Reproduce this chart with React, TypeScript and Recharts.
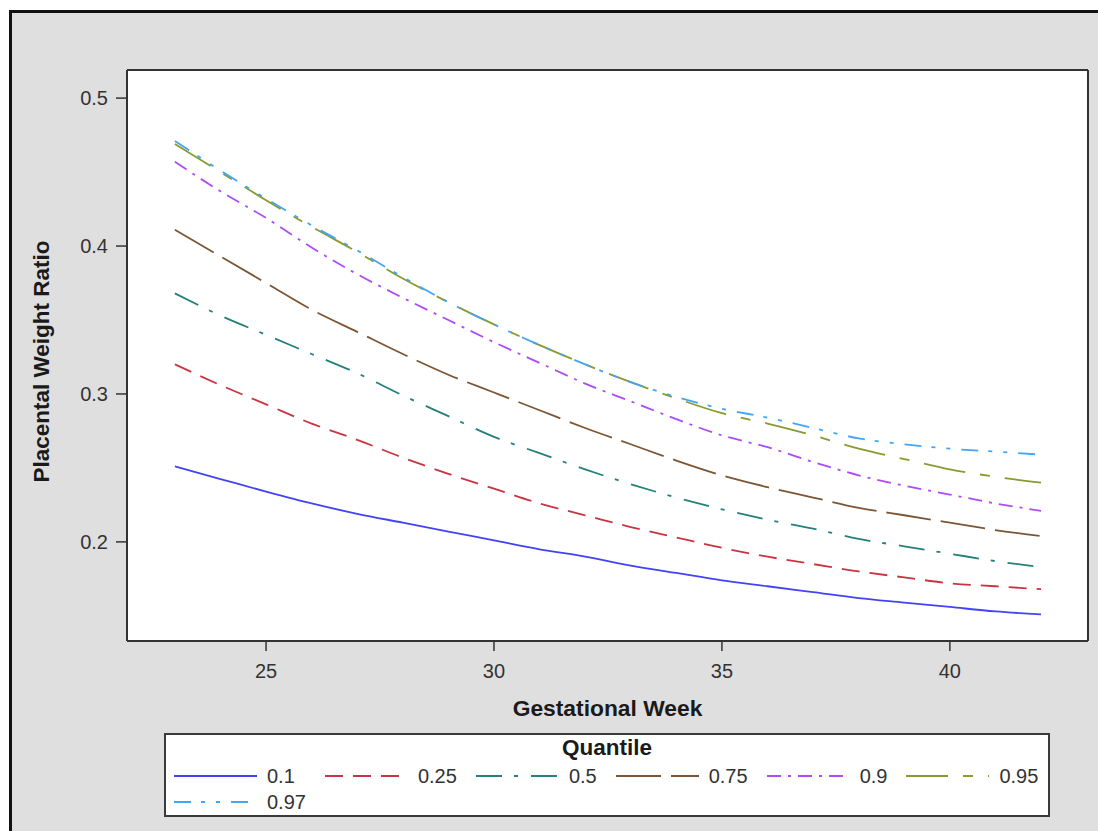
import React from 'react';
import { LineChart, Line, XAxis, YAxis, CartesianGrid, Legend } from 'recharts';

const weeks = [23, 24, 25, 26, 27, 28, 29, 30, 31, 32, 33, 34, 35, 36, 37, 38, 39, 40, 41, 42];
const q010 = [0.251, 0.2425, 0.234, 0.226, 0.219, 0.213, 0.207, 0.201, 0.195, 0.19, 0.184, 0.179, 0.174, 0.17, 0.166, 0.162, 0.159, 0.156, 0.153, 0.151];
const q025 = [0.32, 0.306, 0.293, 0.28, 0.269, 0.257, 0.246, 0.236, 0.226, 0.218, 0.21, 0.203, 0.196, 0.19, 0.185, 0.18, 0.176, 0.172, 0.17, 0.168];
const q050 = [0.368, 0.353, 0.34, 0.327, 0.314, 0.299, 0.285, 0.271, 0.26, 0.249, 0.239, 0.23, 0.222, 0.215, 0.209, 0.202, 0.197, 0.192, 0.187, 0.183];
const q075 = [0.411, 0.393, 0.375, 0.357, 0.342, 0.327, 0.313, 0.301, 0.289, 0.277, 0.266, 0.255, 0.245, 0.237, 0.23, 0.223, 0.218, 0.213, 0.208, 0.204];
const q090 = [0.457, 0.437, 0.419, 0.399, 0.381, 0.365, 0.35, 0.335, 0.321, 0.307, 0.295, 0.283, 0.272, 0.264, 0.254, 0.245, 0.238, 0.232, 0.226, 0.221];
const q095 = [0.469, 0.45, 0.431, 0.413, 0.396, 0.378, 0.362, 0.347, 0.333, 0.32, 0.308, 0.297, 0.287, 0.28, 0.272, 0.263, 0.256, 0.249, 0.244, 0.24];
const q097 = [0.471, 0.451, 0.432, 0.414, 0.397, 0.379, 0.362, 0.347, 0.333, 0.32, 0.308, 0.298, 0.29, 0.284, 0.277, 0.27, 0.266, 0.263, 0.261, 0.259];

const xTicks = [25, 30, 35, 40];
const yTicks = [0.2, 0.3, 0.4, 0.5];

const seriesDefs = [
  { key: 'q010', label: '0.1', values: q010, color: '#4343f5', dash: undefined as string | undefined },
  { key: 'q025', label: '0.25', values: q025, color: '#c93443', dash: '18 10' },
  { key: 'q050', label: '0.5', values: q050, color: '#23807a', dash: '26 12 4 13' },
  { key: 'q075', label: '0.75', values: q075, color: '#7c5634', dash: '45 10' },
  { key: 'q090', label: '0.9', values: q090, color: '#ad4cf5', dash: '14 7 3 7' },
  { key: 'q095', label: '0.95', values: q095, color: '#8a9a2c', dash: '42 15 10 15' },
  { key: 'q097', label: '0.97', values: q097, color: '#42a5f5', dash: '17 10 4 11 4 11' },
];

const data = weeks.map((w, i) => {
  const row: Record<string, number> = { week: w };
  seriesDefs.forEach((s) => {
    row[s.key] = s.values[i];
  });
  return row;
});

const FONT = '"Liberation Sans", Arial, sans-serif';

const LegendContent = () => (
  <div
    style={{
      position: 'relative',
      width: 886,
      height: 84,
      boxSizing: 'border-box',
      border: '2px solid #3a3a3a',
      background: '#ffffff',
      fontFamily: FONT,
    }}
  >
    <div
      style={{
        position: 'absolute',
        left: 0,
        right: 0,
        top: 13,
        transform: 'translateY(-50%)',
        textAlign: 'center',
        fontWeight: 'bold',
        fontSize: 22.5,
        color: '#1a1a1a',
        lineHeight: '24px',
      }}
    >
      Quantile
    </div>
    <div
      style={{
        position: 'absolute',
        left: 8,
        top: 28,
        display: 'grid',
        gridTemplateColumns: 'repeat(6, auto)',
        columnGap: 19,
        gridAutoRows: '26px',
        alignItems: 'center',
      }}
    >
      {seriesDefs.map((s) => (
        <div key={s.key} style={{ display: 'flex', alignItems: 'center', height: 26 }}>
          <svg width={83} height={6} style={{ display: 'block' }}>
            <line x1={0} y1={3} x2={83} y2={3} stroke={s.color} strokeWidth={2} strokeDasharray={s.dash} />
          </svg>
          <span style={{ marginLeft: 10, fontSize: 20, color: '#333', whiteSpace: 'nowrap' }}>{s.label}</span>
        </div>
      ))}
    </div>
  </div>
);

const XLabel = (props: any) => {
  const vb = props.viewBox || { x: 0, y: 0, width: 0, height: 0 };
  return (
    <text
      x={vb.x + vb.width / 2}
      y={708}
      textAnchor="middle"
      dominantBaseline="central"
      fontFamily={FONT}
      fontWeight="bold"
      fontSize={22.8}
      fill="#1a1a1a"
    >
      Gestational Week
    </text>
  );
};

const YLabel = (props: any) => {
  const vb = props.viewBox || { x: 0, y: 0, width: 0, height: 0 };
  const cx = vb.x + 41;
  const cy = vb.y + vb.height / 2 + 6;
  return (
    <text
      x={cx}
      y={cy}
      transform={`rotate(-90 ${cx} ${cy})`}
      textAnchor="middle"
      dominantBaseline="central"
      fontFamily={FONT}
      fontWeight="bold"
      fontSize={22.5}
      fill="#1a1a1a"
    >
      Placental Weight Ratio
    </text>
  );
};

const frameH = (p: any) => [p.offset.top, p.offset.top + p.offset.height];
const frameV = (p: any) => [p.offset.left, p.offset.left + p.offset.width];

export default function App() {
  const tickStyle = { fontFamily: FONT, fontSize: 20, fill: '#333' };
  return (
    <div style={{ position: 'fixed', left: 0, top: 0, width: 1098, height: 831, overflow: 'hidden', background: '#ffffff' }}>
      <div
        style={{
          position: 'absolute',
          left: 9,
          top: 10,
          width: 1089,
          height: 821,
          boxSizing: 'border-box',
          borderLeft: '3px solid #111',
          borderTop: '3px solid #111',
          background: '#dfdfdf',
        }}
      />
      <div style={{ position: 'absolute', left: 0, top: 0 }}>
        <LineChart
          width={1098}
          height={831}
          data={data}
          margin={{ top: 70, right: 10, left: 0, bottom: 110 }}
        >
          <CartesianGrid
            fill="#ffffff"
            stroke="#333"
            strokeWidth={2}
            horizontalCoordinatesGenerator={frameH}
            verticalCoordinatesGenerator={frameV}
          />
          <XAxis
            dataKey="week"
            type="number"
            domain={[21.95, 43.03]}
            ticks={xTicks}
            allowDataOverflow
            height={80}
            tickSize={10}
            tickMargin={13}
            tick={tickStyle}
            axisLine={{ stroke: '#333', strokeWidth: 2 }}
            tickLine={{ stroke: '#333', strokeWidth: 1.5 }}
            label={{ content: XLabel }}
          />
          <YAxis
            type="number"
            domain={[0.133, 0.519]}
            ticks={yTicks}
            allowDataOverflow
            width={127}
            tickSize={11}
            tickMargin={8}
            tick={tickStyle}
            tickFormatter={(v: number) => v.toFixed(1)}
            axisLine={{ stroke: '#333', strokeWidth: 2 }}
            tickLine={{ stroke: '#333', strokeWidth: 1.5 }}
            label={{ content: YLabel }}
          />
          {seriesDefs.map((s) => (
            <Line
              key={s.key}
              type="monotone"
              dataKey={s.key}
              name={s.label}
              stroke={s.color}
              strokeWidth={1.8}
              strokeDasharray={s.dash}
              dot={false}
              activeDot={false}
              isAnimationActive={false}
            />
          ))}
          <Legend
            layout="horizontal"
            verticalAlign="middle"
            align="center"
            content={LegendContent}
            wrapperStyle={{ position: 'absolute', left: 164, top: 733, width: 886, height: 84 }}
          />
        </LineChart>
      </div>
    </div>
  );
}
